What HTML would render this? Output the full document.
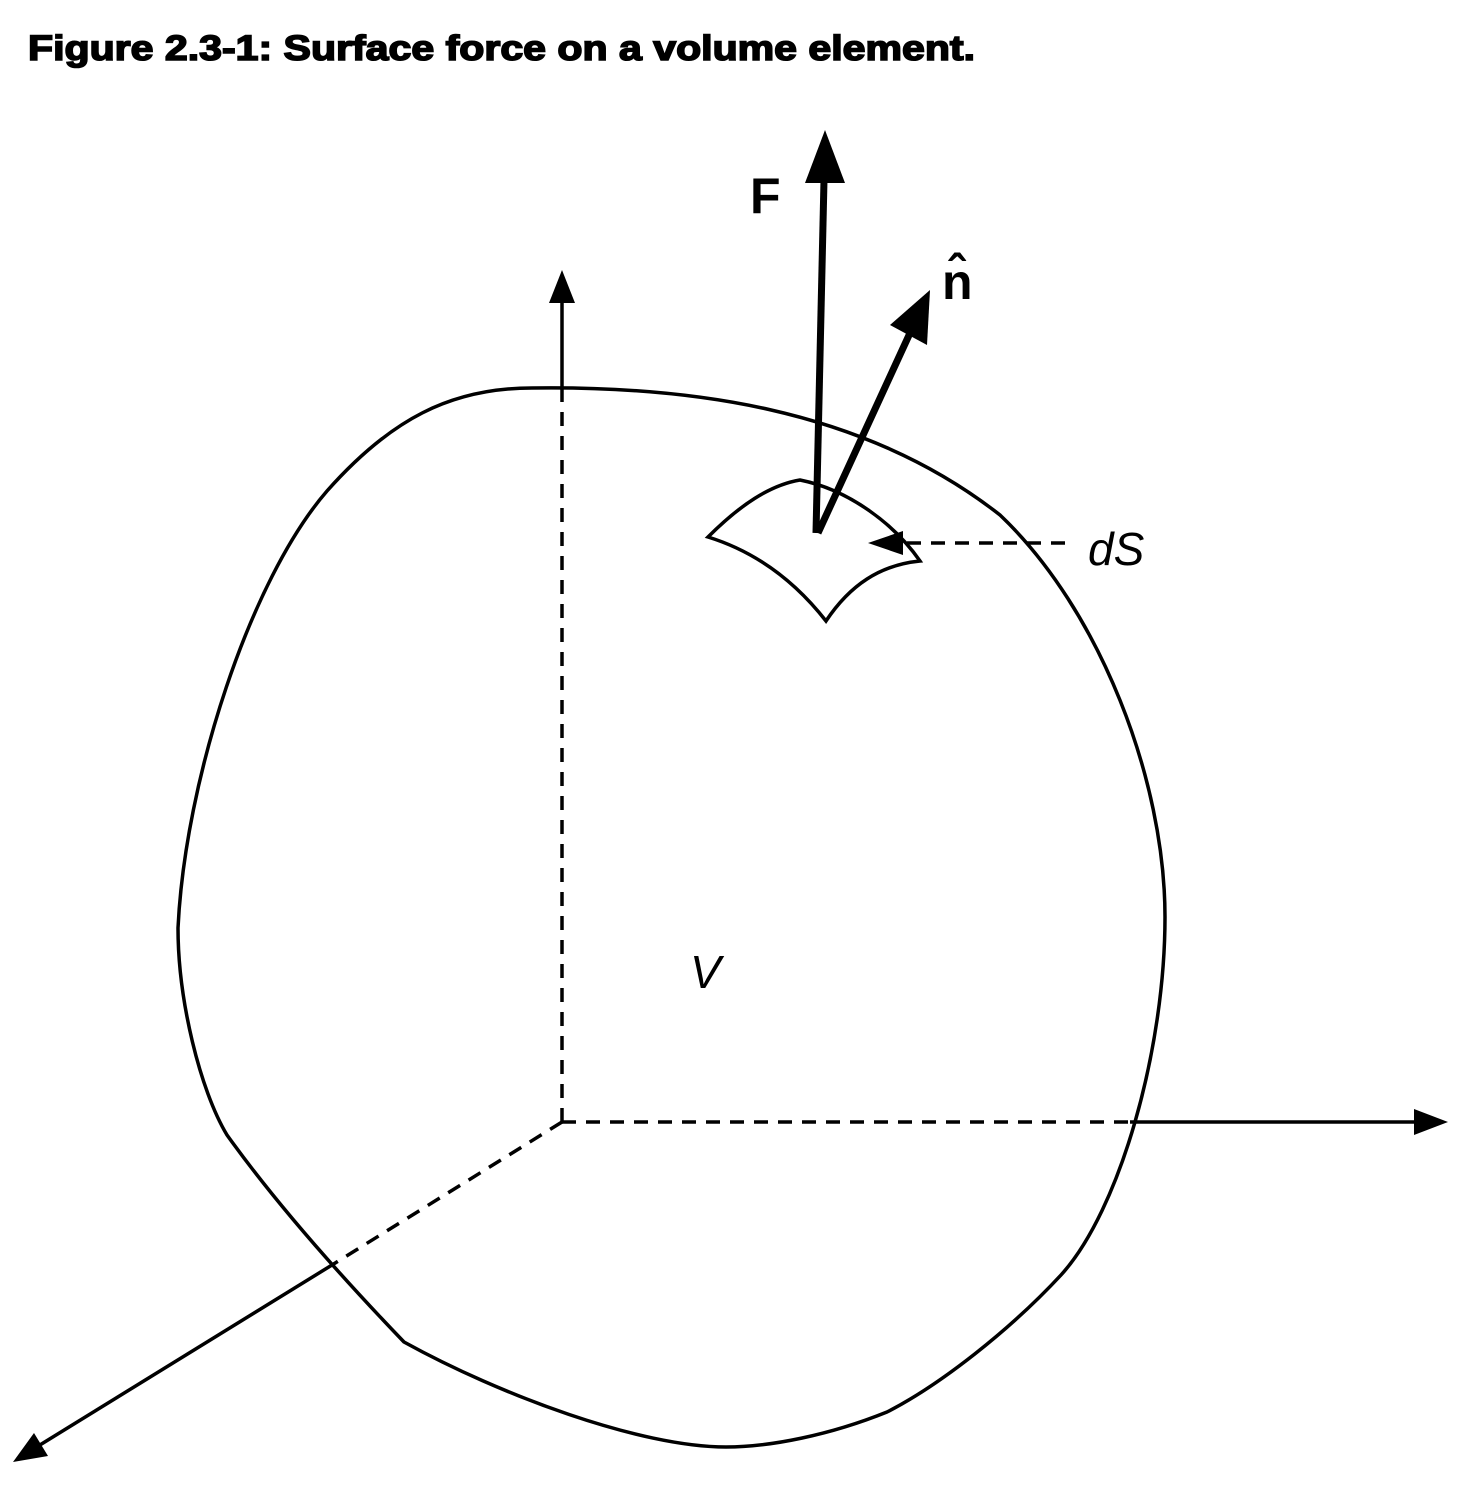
<!DOCTYPE html>
<html><head><style>body{margin:0;background:#fff}svg{display:block}</style></head>
<body>
<svg width="1457" height="1487" viewBox="0 0 1457 1487" xmlns="http://www.w3.org/2000/svg">
<text x="28" y="60" font-family="Liberation Sans, sans-serif" font-weight="bold" font-size="35" stroke="#000" stroke-width="1.6" textLength="947" lengthAdjust="spacingAndGlyphs">Figure 2.3-1: Surface force on a volume element.</text>
<g fill="none" stroke="#000" stroke-width="3.5">
<path d="M532,388 C680,386 860,405 1000,515 C1100,610 1165,780 1165,917 C1165,1050 1120,1210 1061,1275 C1010,1330 940,1385 887,1412 C830,1435 770,1447 726,1447 C640,1447 500,1395 404,1342 C330,1265 270,1195 227,1135 C200,1090 178,1000 178,928 C185,780 250,580 327,491 C390,420 450,388 532,388 Z"/>
<path d="M708,537 C740,505 770,485 800,480 C850,490 895,525 920,561 C880,565 850,585 826,621 C790,575 750,550 708,537 Z"/>
<line x1="562" y1="1122" x2="562" y2="388" stroke-dasharray="14,10"/>
<line x1="562" y1="388" x2="562" y2="300"/>
<line x1="562" y1="1122" x2="1130" y2="1122" stroke-dasharray="14,10"/>
<line x1="1130" y1="1122" x2="1418" y2="1122"/>
<line x1="562" y1="1122" x2="332" y2="1265" stroke-dasharray="14,10"/>
<line x1="332" y1="1265" x2="35" y2="1448"/>
<line x1="1065" y1="543" x2="900" y2="543" stroke-dasharray="14,10"/>
<line x1="816" y1="533" x2="824" y2="180" stroke-width="7"/>
<line x1="818" y1="533" x2="910" y2="333" stroke-width="7"/>
</g>
<g fill="#000">
<polygon points="562,270 549,303 575,303"/>
<polygon points="1448,1122 1414,1109 1414,1135"/>
<polygon points="13,1462 34,1433 48,1456"/>
<polygon points="825,130 805,183 845,183"/>
<polygon points="930,290 890,325 927,345"/>
<polygon points="868,543 903,531 903,555"/>
</g>
<text x="750" y="213" font-family="Liberation Sans, sans-serif" font-weight="bold" font-size="50">F</text>
<text x="942" y="299" font-family="Liberation Sans, sans-serif" font-weight="bold" font-size="50">n̂</text>
<text x="1088" y="565" font-family="Liberation Sans, sans-serif" font-style="italic" font-size="46">dS</text>
<text x="690" y="988" font-family="Liberation Sans, sans-serif" font-style="italic" font-size="46">V</text>
</svg>
</body></html>
